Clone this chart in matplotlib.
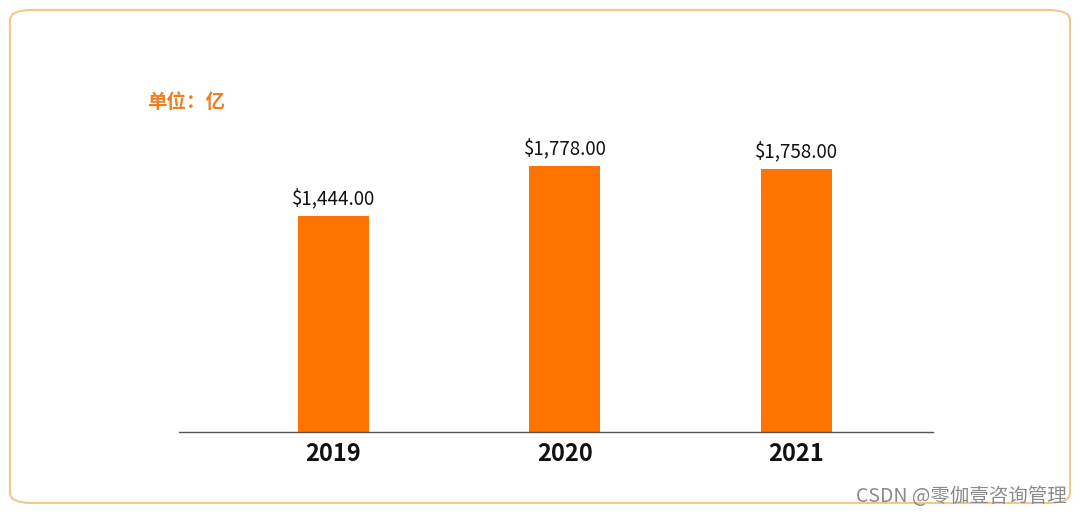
import matplotlib.pyplot as plt
from matplotlib.patches import FancyBboxPatch

years = ["2019", "2020", "2021"]
values = [1444, 1778, 1758]
value_labels = ["$1,444.00", "$1,778.00", "$1,758.00"]

plt.rcParams['font.family'] = ['Noto Sans CJK SC', 'DejaVu Sans']

fig = plt.figure(figsize=(10.8, 5.17), dpi=100)

# rounded frame around the whole card
frame = FancyBboxPatch((10 / 1080, 14 / 517), 1060 / 1080, 493 / 517,
                       boxstyle="round,pad=0,rounding_size=0.02",
                       transform=fig.transFigure, fill=False,
                       edgecolor="#F2C88E", linewidth=1.5)
fig.patches.append(frame)

ax = fig.add_axes([179 / 1080, 85 / 517, 754 / 1080, 332 / 517])
x = range(len(years))
bars = ax.bar(x, values, width=0.307, color="#FF7300")
for b, lab in zip(bars, value_labels):
    ax.annotate(lab, (b.get_x() + b.get_width() / 2, b.get_height()),
                xytext=(0, 5), textcoords="offset points",
                ha="center", va="bottom", fontsize=13.5, fontweight="medium",
                color="#111111")

ax.set_xlim(-0.667, 2.59)
ax.set_ylim(0, 2219)
ax.set_xticks(list(x))
ax.set_xticklabels(years, fontsize=17, fontweight="semibold", color="#111111")
ax.tick_params(axis="x", length=0, pad=7)
ax.set_yticks([])
for s in ["top", "right", "left"]:
    ax.spines[s].set_visible(False)
ax.spines["bottom"].set_color("#555555")
ax.spines["bottom"].set_linewidth(1.0)

fig.text(147 / 1080, 1 - 102 / 517, "单位：亿", fontsize=14, fontweight="bold",
         color="#EE7E22", ha="left", va="center")

fig.text(1067 / 1080, 1 - 496 / 517, "CSDN @零伽壹咨询管理", fontsize=14,
         color="#8A8A8A", ha="right", va="center")

fig.savefig("out.png", dpi=100, facecolor="white")
